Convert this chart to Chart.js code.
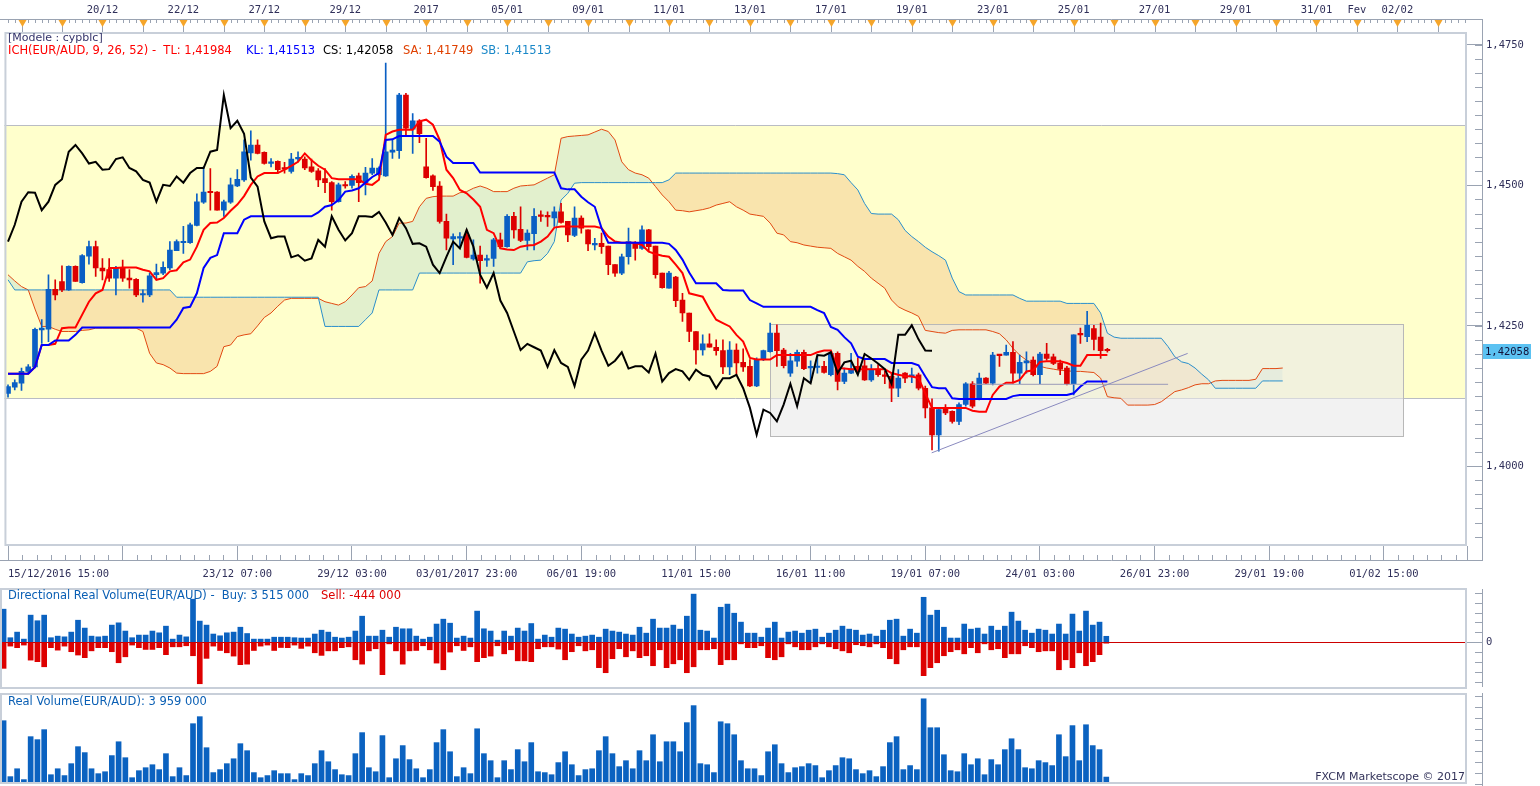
<!DOCTYPE html>
<html>
<head>
<meta charset="utf-8">
<script src="https://cdn.jsdelivr.net/npm/chart.js@4.4.1/dist/chart.umd.min.js"></script>
<style>
  html, body { margin: 0; padding: 0; background: #fff; overflow: hidden; }
  #wrap { position: relative; width: 1540px; height: 786px; }
  canvas { position: absolute; left: 0; }
  .t { position: absolute; font-family: 'DejaVu Sans', sans-serif; font-size: 11.5px; white-space: pre; line-height: 1; }
</style>
</head>
<body>
<div id="wrap">
  <canvas id="cMain" width="1540" height="586" style="top:0"></canvas>
  <canvas id="cDir" width="1540" height="104" style="top:586px"></canvas>
  <canvas id="cVol" width="1540" height="95" style="top:691px"></canvas>

  <div class="t" style="left:8px;top:32px;color:#33336a;font-size:11px">[Modele : cypblc]</div>
  <div class="t" style="left:8px;top:45px;color:#ff0000">ICH(EUR/AUD, 9, 26, 52) -  TL: 1,41984</div>
  <div class="t" style="left:246px;top:45px;color:#0000ff">KL: 1,41513</div>
  <div class="t" style="left:323px;top:45px;color:#000000">CS: 1,42058</div>
  <div class="t" style="left:403px;top:45px;color:#e04000">SA: 1,41749</div>
  <div class="t" style="left:481px;top:45px;color:#1a88c8">SB: 1,41513</div>
  <div class="t" style="left:8px;top:590px;color:#0a5fb4">Directional Real Volume(EUR/AUD) -  Buy: 3 515 000</div>
  <div class="t" style="left:321px;top:590px;color:#dd0000">Sell: -444 000</div>
  <div class="t" style="left:8px;top:696px;color:#0a5fb4">Real Volume(EUR/AUD): 3 959 000</div>
  <div class="t" style="right:75px;top:771px;color:#33335a;font-size:11px">FXCM Marketscope © 2017</div>
</div>

<script>
// EUR/AUD H4 — candles, Ichimoku (9, 26, 52), directional and real volume

// --- price data, one entry per H4 bar ---
const opens = [
  1.4130,1.4141,1.4148,1.4169,1.4177,1.4243,1.4244,1.4315,1.4329,1.4314,
  1.4356,1.4327,1.4374,1.4391,1.4353,1.4350,1.4335,1.4353,1.4335,1.4333,
  1.4305,1.4305,1.4341,1.4344,1.4353,1.4384,1.4398,1.4398,1.4429,1.4470,
  1.4488,1.4488,1.4456,1.4470,1.4499,1.4510,1.4558,1.4572,1.4559,1.4539,
  1.4543,1.4530,1.4525,1.4547,1.4547,1.4533,1.4526,1.4512,1.4505,1.4471,
  1.4501,1.4500,1.4517,1.4505,1.4522,1.4519,1.4517,1.4559,1.4562,1.4661,
  1.4600,1.4615,1.4533,1.4517,1.4499,1.4436,1.4405,1.4406,1.4412,1.4369,
  1.4376,1.4367,1.4370,1.4403,1.4391,1.4445,1.4422,1.4402,1.4414,1.4446,
  1.4445,1.4442,1.4453,1.4436,1.4411,1.4442,1.4421,1.4394,1.4397,1.4392,
  1.4359,1.4344,1.4373,1.4397,1.4388,1.4421,1.4392,1.4344,1.4317,1.4337,
  1.4296,1.4273,1.4240,1.4207,1.4218,1.4212,1.4206,1.4177,1.4207,1.4185,
  1.4178,1.4143,1.4190,1.4204,1.4237,1.4207,1.4166,1.4187,1.4203,1.4175,
  1.4176,1.4178,1.4163,1.4201,1.4151,1.4166,1.4178,1.4179,1.4154,1.4173,
  1.4161,1.4160,1.4139,1.4166,1.4160,1.4163,1.4139,1.4104,1.4056,1.4104,
  1.4098,1.4080,1.4110,1.4147,1.4121,1.4157,1.4148,1.4198,1.4198,1.4203,
  1.4166,1.4184,1.4189,1.4163,1.4200,1.4195,1.4184,1.4175,1.4147,1.4236,
  1.4231,1.4245,1.4230,1.4208
];
const highs = [
  1.4145,1.4154,1.4175,1.4181,1.4246,1.4261,1.4341,1.4332,1.4357,1.4357,
  1.4357,1.4377,1.4401,1.4401,1.4370,1.4370,1.4356,1.4367,1.4350,1.4334,
  1.4314,1.4344,1.4360,1.4364,1.4400,1.4403,1.4427,1.4433,1.4485,1.4533,
  1.4530,1.4489,1.4474,1.4513,1.4528,1.4581,1.4597,1.4581,1.4560,1.4548,
  1.4544,1.4541,1.4557,1.4560,1.4551,1.4547,1.4530,1.4530,1.4507,1.4504,
  1.4507,1.4519,1.4522,1.4532,1.4548,1.4533,1.4718,1.4581,1.4664,1.4664,
  1.4628,1.4617,1.4584,1.4519,1.4507,1.4449,1.4414,1.4416,1.4421,1.4403,
  1.4392,1.4376,1.4406,1.4415,1.4448,1.4452,1.4462,1.4421,1.4459,1.4455,
  1.4453,1.4462,1.4468,1.4436,1.4462,1.4446,1.4421,1.4406,1.4415,1.4392,
  1.4359,1.4378,1.4424,1.4400,1.4428,1.4422,1.4392,1.4344,1.4347,1.4338,
  1.4308,1.4273,1.4240,1.4234,1.4236,1.4225,1.4225,1.4222,1.4218,1.4209,
  1.4190,1.4193,1.4207,1.4255,1.4252,1.4210,1.4201,1.4207,1.4207,1.4188,
  1.4196,1.4187,1.4204,1.4204,1.4175,1.4201,1.4193,1.4189,1.4181,1.4181,
  1.4169,1.4166,1.4172,1.4167,1.4175,1.4166,1.4143,1.4120,1.4104,1.4110,
  1.4099,1.4113,1.4149,1.4151,1.4166,1.4158,1.4203,1.4198,1.4216,1.4222,
  1.4198,1.4204,1.4195,1.4203,1.4219,1.4200,1.4189,1.4178,1.4234,1.4246,
  1.4276,1.4251,1.4255,1.4210
];
const lows = [
  1.4123,1.4136,1.4135,1.4166,1.4175,1.4219,1.4222,1.4296,1.4311,1.4313,
  1.4329,1.4326,1.4360,1.4338,1.4332,1.4329,1.4305,1.4329,1.4317,1.4302,
  1.4292,1.4302,1.4332,1.4341,1.4350,1.4384,1.4379,1.4397,1.4428,1.4468,
  1.4456,1.4456,1.4445,1.4468,1.4498,1.4507,1.4545,1.4556,1.4538,1.4533,
  1.4522,1.4522,1.4522,1.4542,1.4528,1.4523,1.4498,1.4487,1.4456,1.4470,
  1.4495,1.4495,1.4471,1.4483,1.4519,1.4517,1.4516,1.4548,1.4548,1.4587,
  1.4557,1.4576,1.4513,1.4491,1.4433,1.4385,1.4359,1.4391,1.4371,1.4367,
  1.4326,1.4356,1.4356,1.4388,1.4390,1.4406,1.4400,1.4385,1.4385,1.4436,
  1.4427,1.4427,1.4433,1.4400,1.4409,1.4415,1.4384,1.4385,1.4379,1.4341,
  1.4338,1.4341,1.4360,1.4367,1.4386,1.4384,1.4335,1.4317,1.4317,1.4284,
  1.4258,1.4222,1.4182,1.4198,1.4212,1.4198,1.4165,1.4163,1.4163,1.4169,
  1.4142,1.4142,1.4188,1.4203,1.4178,1.4175,1.4160,1.4178,1.4172,1.4149,
  1.4166,1.4166,1.4161,1.4136,1.4147,1.4165,1.4166,1.4153,1.4151,1.4160,
  1.4147,1.4115,1.4124,1.4149,1.4149,1.4136,1.4086,1.4029,1.4027,1.4092,
  1.4077,1.4074,1.4107,1.4104,1.4118,1.4147,1.4145,1.4178,1.4198,1.4148,
  1.4147,1.4166,1.4161,1.4147,1.4189,1.4181,1.4163,1.4145,1.4127,1.4219,
  1.4222,1.4207,1.4192,1.4203
];
const closes = [
  1.4142,1.4149,1.4169,1.4177,1.4244,1.4246,1.4315,1.4305,1.4314,1.4356,
  1.4329,1.4375,1.4391,1.4353,1.4348,1.4335,1.4353,1.4335,1.4332,1.4305,
  1.4306,1.4339,1.4345,1.4354,1.4385,1.4400,1.4400,1.4430,1.4471,1.4488,
  1.4487,1.4456,1.4471,1.4501,1.4511,1.4560,1.4572,1.4557,1.4539,1.4542,
  1.4528,1.4529,1.4547,1.4550,1.4531,1.4525,1.4510,1.4505,1.4471,1.4501,
  1.4499,1.4516,1.4505,1.4522,1.4531,1.4531,1.4560,1.4563,1.4661,1.4602,
  1.4615,1.4592,1.4514,1.4498,1.4436,1.4406,1.4409,1.4409,1.4372,1.4376,
  1.4366,1.4370,1.4403,1.4391,1.4445,1.4421,1.4402,1.4415,1.4445,1.4445,
  1.4444,1.4453,1.4434,1.4412,1.4442,1.4424,1.4396,1.4397,1.4391,1.4359,
  1.4344,1.4373,1.4400,1.4388,1.4421,1.4391,1.4341,1.4318,1.4344,1.4295,
  1.4273,1.4240,1.4207,1.4218,1.4212,1.4206,1.4177,1.4207,1.4184,1.4177,
  1.4143,1.4190,1.4206,1.4237,1.4206,1.4179,1.4188,1.4203,1.4174,1.4178,
  1.4178,1.4167,1.4201,1.4151,1.4166,1.4173,1.4169,1.4154,1.4172,1.4163,
  1.4160,1.4139,1.4157,1.4157,1.4163,1.4139,1.4104,1.4056,1.4101,1.4095,
  1.4080,1.4110,1.4147,1.4107,1.4157,1.4148,1.4198,1.4197,1.4203,1.4166,
  1.4185,1.4188,1.4163,1.4200,1.4192,1.4183,1.4173,1.4147,1.4234,1.4234,
  1.4251,1.4226,1.4206,1.42058
];

// --- Ichimoku lines as drawn ---
const tenkan = [
  1.4165,1.4165,1.4165,1.4165,1.4177,1.4216,1.4216,1.4218,1.4246,1.4247,
  1.4247,1.4270,1.4293,1.4308,1.4314,1.4353,1.4353,1.4354,1.4354,1.4354,
  1.4350,1.4347,1.4332,1.4335,1.4347,1.4349,1.4363,1.4368,1.4391,1.4421,
  1.4433,1.4434,1.4442,1.4455,1.4466,1.4481,1.4501,1.4516,1.4522,1.4522,
  1.4522,1.4528,1.4535,1.4542,1.4557,1.4545,1.4535,1.4528,1.4513,1.4511,
  1.4511,1.4511,1.4511,1.4503,1.4501,1.4510,1.4590,1.4596,1.4599,1.4599,
  1.4599,1.4614,1.4617,1.4608,1.4581,1.4528,1.4513,1.4492,1.4486,1.4475,
  1.4462,1.4421,1.4415,1.4388,1.4386,1.4385,1.4391,1.4393,1.4394,1.4400,
  1.4409,1.4425,1.4427,1.4427,1.4427,1.4427,1.4427,1.4427,1.4424,1.4409,
  1.4400,1.4398,1.4398,1.4398,1.4394,1.4382,1.4378,1.4375,1.4373,1.4359,
  1.4344,1.4308,1.4305,1.4302,1.4280,1.4261,1.4255,1.4249,1.4234,1.4222,
  1.4193,1.4190,1.4190,1.4190,1.4198,1.4198,1.4198,1.4198,1.4198,1.4198,
  1.4203,1.4206,1.4206,1.4175,1.4174,1.4173,1.4173,1.4173,1.4173,1.4173,
  1.4173,1.4166,1.4163,1.4161,1.4160,1.4157,1.4130,1.4104,1.4104,1.4104,
  1.4104,1.4104,1.4104,1.4099,1.4097,1.4097,1.4127,1.4142,1.4149,1.4149,
  1.4154,1.4169,1.4171,1.4186,1.4187,1.4187,1.4187,1.4184,1.4179,1.4179,
  1.4198,1.4198,1.4198,1.4198
];
const kijun = [
  1.4165,1.4165,1.4165,1.4165,1.4177,1.4216,1.4216,1.4224,1.4224,1.4224,
  1.4234,1.4247,1.4247,1.4247,1.4247,1.4247,1.4247,1.4247,1.4247,1.4247,
  1.4247,1.4247,1.4247,1.4247,1.4247,1.4261,1.4282,1.4284,1.4308,1.4353,
  1.4371,1.4376,1.4415,1.4415,1.4415,1.4439,1.4445,1.4445,1.4445,1.4445,
  1.4445,1.4445,1.4445,1.4445,1.4445,1.4445,1.4452,1.4462,1.4465,1.4474,
  1.4489,1.4491,1.4495,1.4505,1.4515,1.4522,1.4581,1.4582,1.4588,1.4588,
  1.4588,1.4588,1.4588,1.4588,1.4578,1.4551,1.4540,1.4540,1.4540,1.4540,
  1.4523,1.4523,1.4523,1.4523,1.4523,1.4523,1.4523,1.4523,1.4523,1.4523,
  1.4523,1.4523,1.4495,1.4493,1.4493,1.4480,1.4470,1.4462,1.4424,1.4398,
  1.4398,1.4398,1.4398,1.4398,1.4398,1.4398,1.4398,1.4398,1.4396,1.4385,
  1.4368,1.4345,1.4326,1.4326,1.4326,1.4326,1.4314,1.4313,1.4313,1.4313,
  1.4296,1.4290,1.4284,1.4284,1.4284,1.4284,1.4284,1.4284,1.4284,1.4284,
  1.4278,1.4273,1.4248,1.4243,1.4230,1.4219,1.4195,1.4191,1.4191,1.4191,
  1.4191,1.4184,1.4184,1.4184,1.4184,1.4180,1.4160,1.4141,1.4139,1.4139,
  1.4121,1.4120,1.4120,1.4120,1.4120,1.4120,1.4120,1.4120,1.4120,1.4125,
  1.4127,1.4127,1.4127,1.4127,1.4127,1.4127,1.4127,1.4127,1.4130,1.4142,
  1.4151,1.4151,1.4151,1.4151
];
const senkouA = [
  1.4341,1.4330,1.4320,1.4314,1.4280,1.4249,1.4249,1.4244,1.4240,1.4240,
  1.4240,1.4242,1.4243,1.4246,1.4246,1.4246,1.4246,1.4246,1.4246,1.4246,
  1.4240,1.4201,1.4184,1.4181,1.4175,1.4166,1.4165,1.4165,1.4165,1.4165,
  1.4169,1.4178,1.4213,1.4216,1.4231,1.4234,1.4236,1.4250,1.4265,1.4273,
  1.4285,1.4296,1.4299,1.4299,1.4299,1.4299,1.4299,1.4293,1.4290,1.4287,
  1.4293,1.4305,1.4318,1.4320,1.4330,1.4379,1.4400,1.4409,1.4433,1.4433,
  1.4436,1.4462,1.4477,1.4480,1.4481,1.4481,1.4481,1.4487,1.4489,1.4495,
  1.4499,1.4495,1.4489,1.4489,1.4489,1.4495,1.4499,1.4500,1.4501,1.4507,
  1.4513,1.4519,1.4584,1.4587,1.4588,1.4589,1.4590,1.4595,1.4600,1.4596,
  1.4581,1.4542,1.4528,1.4522,1.4519,1.4513,1.4498,1.4483,1.4471,1.4456,
  1.4455,1.4453,1.4455,1.4457,1.4460,1.4465,1.4468,1.4471,1.4462,1.4456,
  1.4449,1.4447,1.4445,1.4433,1.4415,1.4412,1.4400,1.4398,1.4394,1.4392,
  1.4390,1.4389,1.4388,1.4379,1.4373,1.4367,1.4356,1.4347,1.4335,1.4326,
  1.4317,1.4296,1.4284,1.4278,1.4273,1.4267,1.4242,1.4240,1.4238,1.4237,
  1.4242,1.4243,1.4243,1.4243,1.4243,1.4243,1.4240,1.4236,1.4225,1.4210,
  1.4198,1.4189,1.4182,1.4178,1.4175,1.4173,1.4171,1.4170,1.4169,1.4169,
  1.4168,1.4167,1.4157,1.4124,1.4122,1.4121,1.4109,1.4109,1.4109,1.4109,
  1.4110,1.4115,1.4124,1.4133,1.4136,1.4140,1.4145,1.4147,1.4147,1.4152,
  1.4153,1.4153,1.4153,1.4153,1.4153,1.4155,1.4174,1.4174,1.4174,1.4175
];
const senkouB = [
  1.4332,1.4314,1.4314,1.4314,1.4314,1.4314,1.4314,1.4314,1.4314,1.4314,
  1.4314,1.4314,1.4314,1.4314,1.4314,1.4314,1.4314,1.4314,1.4314,1.4314,
  1.4314,1.4314,1.4314,1.4314,1.4314,1.4301,1.4301,1.4301,1.4301,1.4301,
  1.4301,1.4301,1.4301,1.4301,1.4301,1.4301,1.4301,1.4301,1.4301,1.4301,
  1.4301,1.4301,1.4301,1.4301,1.4301,1.4301,1.4301,1.4249,1.4249,1.4249,
  1.4249,1.4249,1.4249,1.4261,1.4273,1.4314,1.4314,1.4314,1.4314,1.4314,
  1.4314,1.4344,1.4344,1.4344,1.4344,1.4344,1.4344,1.4344,1.4344,1.4344,
  1.4344,1.4344,1.4344,1.4344,1.4344,1.4344,1.4344,1.4364,1.4366,1.4367,
  1.4379,1.4400,1.4474,1.4486,1.4504,1.4505,1.4505,1.4505,1.4505,1.4505,
  1.4505,1.4505,1.4505,1.4505,1.4505,1.4505,1.4505,1.4505,1.4510,1.4522,
  1.4522,1.4522,1.4522,1.4522,1.4522,1.4522,1.4522,1.4522,1.4522,1.4522,
  1.4522,1.4522,1.4522,1.4522,1.4522,1.4522,1.4522,1.4522,1.4522,1.4522,
  1.4522,1.4522,1.4522,1.4521,1.4519,1.4505,1.4492,1.4468,1.4450,1.4449,
  1.4449,1.4449,1.4439,1.4420,1.4409,1.4400,1.4390,1.4382,1.4375,1.4367,
  1.4335,1.4311,1.4305,1.4305,1.4305,1.4305,1.4305,1.4305,1.4305,1.4305,
  1.4299,1.4294,1.4294,1.4294,1.4294,1.4294,1.4294,1.4290,1.4290,1.4290,
  1.4290,1.4290,1.4273,1.4237,1.4230,1.4228,1.4228,1.4228,1.4228,1.4228,
  1.4228,1.4228,1.4213,1.4195,1.4186,1.4183,1.4175,1.4164,1.4154,1.4139,
  1.4139,1.4139,1.4139,1.4139,1.4139,1.4139,1.4152,1.4152,1.4152,1.4152
];
const CHIKOU_SHIFT = 26;

// --- volumes (millions) ---
const buyVol = [
  19.0,2.7,5.9,1.9,15.6,12.4,15.6,2.7,3.6,3.2,
  5.9,12.7,8.2,3.6,3.2,3.6,9.9,11.2,6.5,2.7,
  4.2,4.2,6.5,5.5,9.3,1.9,4.2,3.2,24.7,12.2,
  9.9,4.8,3.8,5.5,5.9,8.7,5.1,1.9,1.9,1.9,
  3.0,3.0,3.0,2.7,2.5,2.5,4.8,7.0,5.9,3.0,
  2.5,3.0,6.5,15.0,3.6,3.6,7.0,3.0,8.7,7.8,
  7.8,3.6,1.9,3.0,10.5,13.3,11.0,2.5,3.6,2.5,
  17.9,7.8,6.5,1.3,6.5,3.6,8.2,6.5,10.8,1.9,
  4.2,3.0,8.2,7.6,4.8,3.0,3.6,4.2,3.0,7.6,
  6.5,5.9,4.8,4.2,8.7,5.3,13.3,8.2,8.2,9.9,
  7.6,15.0,27.6,7.0,6.5,2.5,20.1,21.9,16.7,11.6,
  5.3,5.3,3.0,8.2,11.6,2.5,5.9,6.5,5.3,7.0,
  7.6,3.0,5.3,7.0,9.3,7.6,7.0,4.2,4.8,3.6,
  7.0,12.7,13.3,3.6,7.6,5.3,25.8,15.6,18.4,8.7,
  2.5,2.5,10.5,7.6,8.2,4.8,9.3,7.0,9.3,17.3,
  12.2,7.0,5.3,7.6,7.0,4.8,10.5,4.8,16.2,6.5,
  17.9,9.9,11.6,3.515
];
const sellVol = [
  -14.8,-2.1,-3.0,-1.5,-10.1,-11.0,-13.9,-3.0,-4.4,-2.1,
  -5.3,-7.2,-8.7,-4.8,-3.0,-3.0,-5.3,-11.6,-8.2,-1.5,
  -3.0,-4.0,-4.0,-3.0,-7.0,-2.5,-2.5,-1.9,-7.6,-23.6,
  -9.1,-2.1,-4.6,-5.9,-7.8,-12.7,-12.4,-4.6,-2.1,-1.5,
  -4.6,-2.9,-3.0,-1.5,-3.4,-2.1,-5.9,-7.4,-4.8,-4.8,
  -3.0,-2.5,-9.9,-12.4,-4.8,-3.6,-18.4,-0.8,-4.8,-12.4,
  -4.8,-4.6,-1.9,-4.2,-11.8,-15.6,-5.5,-1.9,-4.6,-2.5,
  -11.0,-8.7,-7.8,-1.9,-6.5,-4.2,-10.5,-10.5,-11.0,-3.6,
  -2.5,-2.5,-3.8,-9.9,-5.3,-1.9,-4.8,-4.2,-14.4,-17.3,
  -9.3,-3.6,-8.2,-4.8,-8.7,-7.6,-13.3,-4.2,-14.4,-12.2,
  -9.9,-17.3,-13.9,-4.2,-4.2,-3.6,-12.7,-9.9,-9.9,-0.8,
  -3.0,-3.0,-1.9,-8.7,-9.9,-8.2,-0.8,-2.5,-4.2,-4.2,
  -2.5,-0.8,-2.5,-3.6,-4.8,-5.9,-1.3,-1.9,-2.5,-0.8,
  -3.0,-9.3,-12.2,-4.2,-2.5,-2.5,-19.0,-14.4,-11.6,-7.6,
  -5.3,-4.2,-6.5,-3.0,-5.9,-0.8,-4.2,-3.6,-8.7,-6.5,
  -6.5,-1.9,-3.0,-5.3,-4.8,-4.8,-15.6,-9.9,-14.4,-5.9,
  -13.3,-11.0,-7.0,-0.444
];
const realVol = [
  36.1,4.2,8.7,2.5,27.0,25.3,31.0,5.3,8.7,4.8,
  11.6,21.3,17.9,8.7,5.9,7.0,16.2,24.1,15.0,3.6,
  7.6,9.3,11.0,8.2,17.3,4.2,9.3,4.8,34.4,38.4,
  20.7,6.5,8.2,11.6,14.4,23.0,19.0,6.5,3.6,4.8,
  7.6,5.9,5.9,2.5,5.9,4.8,11.6,19.0,12.7,8.2,
  5.3,4.8,17.3,29.3,9.3,7.0,27.6,3.6,14.4,21.9,
  13.9,8.7,3.6,8.2,23.6,31.0,18.4,4.2,9.3,5.9,
  31.5,17.3,13.3,3.6,13.3,8.2,19.6,12.7,23.6,7.0,
  6.5,5.3,12.2,18.4,11.0,4.8,8.2,8.7,19.0,27.0,
  17.3,9.9,13.3,8.7,19.0,13.3,28.1,12.7,24.1,24.1,
  18.4,35.0,44.7,11.6,11.0,6.5,35.5,34.4,28.1,13.3,
  8.7,8.7,4.8,18.4,22.4,11.6,6.5,9.3,9.9,11.6,
  10.5,3.6,7.6,10.5,15.0,14.4,8.2,5.9,7.6,4.2,
  9.9,23.6,27.0,8.2,10.5,8.2,48.6,32.1,32.1,16.7,
  7.6,7.0,17.3,11.0,14.4,5.3,13.9,11.0,19.6,25.8,
  19.6,9.3,8.7,13.3,12.2,10.5,28.1,15.6,33.3,13.3,
  33.8,21.9,19.6,3.959
];

// --- axes ---
const priceTicks = [1.4000, 1.4250, 1.4500, 1.4750];
const topTickIdx = [14, 26, 38, 50, 62, 74, 86, 98, 110, 122, 134, 146, 158, 170, 182, 194, 200, 206];
const topLabels  = ['20/12','22/12','27/12','29/12','2017','05/01','09/01','11/01','13/01','17/01',
                    '19/01','23/01','25/01','27/01','29/01','31/01','Fev','02/02'];
const bottomTickIdx = [0, 17, 34, 51, 68, 85, 102, 119, 136, 153, 170, 187, 204];
const bottomLabels  = ['15/12/2016 15:00','','23/12 07:00','29/12 03:00','03/01/2017 23:00','06/01 19:00',
                       '11/01 15:00','16/01 11:00','19/01 07:00','24/01 03:00','26/01 23:00','29/01 19:00','01/02 15:00'];

// --- drawn objects ---
const yellowBand = [1.4121, 1.4607];
const boxIdx = [113, 206.9];
const boxPrice = [1.4054, 1.4253];
const trendIdx = [136.95, 174.9];
const trendPrice = [1.4024, 1.4201];
const levelIdx = [143, 172];
const levelPrice = 1.4146;

const X_MIN = -0.53, X_MAX = 216.32;
const Y_MIN = 1.38582, Y_MAX = 1.47731;
const DIR_MIN = -26.6, DIR_MAX = 31.1;
const VOL_MAX = 51.9;

const BLUE = '#0a5fc4';
const RED  = '#dd0000';
const VBLUE = '#0b62c0';
const AXIS_TXT = '#30305a';
const TICK_CLR = '#9aa3b2';
const FRAME_CLR = '#c8cfd9';
const MONO = "'DejaVu Sans Mono', monospace";
const AXIS_W = 73;

const pts = arr => arr.map((v, i) => ({ x: i, y: v }));
const candleColor = closes.map((c, i) => (c >= opens[i] ? BLUE : RED));

function hline(ctx, x1, x2, y) {
  ctx.beginPath(); ctx.moveTo(x1, Math.round(y) + 0.5); ctx.lineTo(x2, Math.round(y) + 0.5); ctx.stroke();
}
function vline(ctx, x, y1, y2) {
  ctx.beginPath(); ctx.moveTo(Math.round(x) + 0.5, y1); ctx.lineTo(Math.round(x) + 0.5, y2); ctx.stroke();
}
function frame(ctx, a) {
  ctx.strokeStyle = FRAME_CLR; ctx.lineWidth = 2;
  ctx.strokeRect(a.left + 1, a.top + 1, a.right - a.left - 2, a.bottom - a.top - 2);
}
// right ruler: vertical line beyond the frame, short ticks every `step`
function rightRuler(ctx, a, yScale, step, y1, y2) {
  const rx = a.right + 15;
  ctx.strokeStyle = TICK_CLR; ctx.lineWidth = 1;
  vline(ctx, rx, y1, y2);
  const k0 = Math.ceil(yScale.min / step), k1 = Math.floor(yScale.max / step);
  for (let k = k0; k <= k1; k++) {
    const py = yScale.getPixelForValue(k * step);
    hline(ctx, rx - 7, rx, py);
  }
}
// fixed axis width, no extra padding for tick labels
function fixAxis(ax) {
  ax.width = AXIS_W;
  ax.paddingTop = 0;
  ax.paddingBottom = 0;
}

const hiddenX = { type: 'linear', min: X_MIN, max: X_MAX, offset: false, display: false };

// ---------------- main price panel ----------------
const mainDeco = {
  id: 'mainDeco',
  beforeDraw(chart) {
    const { ctx, chartArea: a, scales: { y } } = chart;
    const t = y.getPixelForValue(yellowBand[1]), b = y.getPixelForValue(yellowBand[0]);
    ctx.save();
    ctx.fillStyle = '#ffffcc';
    ctx.fillRect(a.left, t, a.right - a.left, b - t);
    ctx.strokeStyle = '#b9bcc4'; ctx.lineWidth = 1;
    hline(ctx, a.left, a.right, t);
    hline(ctx, a.left, a.right, b);
    ctx.restore();
  },
  beforeDatasetDraw(chart, args) {
    if (args.index !== 0) return;
    const { ctx, scales: { x, y } } = chart;
    const l = x.getPixelForValue(boxIdx[0]), r = x.getPixelForValue(boxIdx[1]);
    const t = y.getPixelForValue(boxPrice[1]), b = y.getPixelForValue(boxPrice[0]);
    ctx.save();
    ctx.fillStyle = 'rgba(233,233,233,0.59)';
    ctx.fillRect(l, t, r - l, b - t);
    ctx.strokeStyle = '#b8b8b8'; ctx.lineWidth = 1;
    ctx.strokeRect(Math.round(l) + 0.5, Math.round(t) + 0.5, Math.round(r - l), Math.round(b - t));
    ctx.restore();
  },
  afterDraw(chart) {
    const { ctx, chartArea: a, scales: { x, y } } = chart;
    ctx.save();
    frame(ctx, a);
    const rx = a.right + 15;
    ctx.strokeStyle = TICK_CLR; ctx.lineWidth = 1;

    // top ruler: bar ticks, day marks with orange triangles
    hline(ctx, 0, rx, 19);
    for (let i = 0; i <= X_MAX; i++) vline(ctx, x.getPixelForValue(i), 20, 23);
    for (let d = 2; d <= X_MAX; d += 6) vline(ctx, x.getPixelForValue(d), 20, a.top);
    ctx.fillStyle = '#f5a52a';
    for (let d = 2; d <= X_MAX; d += 6) {
      const px = Math.round(x.getPixelForValue(d)) + 0.5;
      ctx.beginPath(); ctx.moveTo(px - 4, 20); ctx.lineTo(px + 4, 20); ctx.lineTo(px, 27); ctx.closePath(); ctx.fill();
    }

    // bottom ruler
    const by = a.bottom + 14;
    hline(ctx, 0, rx, by);
    for (let k = 0; k * 17 / 8 <= X_MAX; k++) {
      if (k % 8 === 0) continue;
      vline(ctx, x.getPixelForValue(k * 17 / 8), by - 5, by);
    }

    // right ruler
    rightRuler(ctx, a, y, 0.0025, 19, by + 1);

    // last price tag
    const last = closes[closes.length - 1];
    const py = Math.round(y.getPixelForValue(last));
    ctx.fillStyle = '#5cc2f2';
    ctx.fillRect(rx + 1, py - 7, 48, 15);
    ctx.fillStyle = '#12123a';
    ctx.font = "10.5px " + MONO;
    ctx.textBaseline = 'middle';
    ctx.fillText(last.toFixed(5).replace('.', ','), rx + 3, py + 1);
    ctx.restore();
  }
};

new Chart(document.getElementById('cMain'), {
  type: 'bar',
  data: {
    datasets: [
      { type: 'line', label: 'SA', data: pts(senkouA), borderColor: '#e24a12', borderWidth: 1,
        pointRadius: 0, tension: 0, order: 10,
        fill: { target: 1, above: 'rgba(150,200,210,0.28)', below: 'rgba(235,170,110,0.32)' } },
      { type: 'line', label: 'SB', data: pts(senkouB), borderColor: '#2a8fcc', borderWidth: 1,
        pointRadius: 0, tension: 0, fill: false, order: 9 },
      { type: 'bar', label: 'wick', data: lows.map((l, i) => ({ x: i, y: [l, highs[i]] })),
        backgroundColor: candleColor, barThickness: 1, grouped: false, order: 6 },
      { type: 'bar', label: 'body', data: opens.map((o, i) => ({ x: i, y: [o, closes[i]] })),
        backgroundColor: candleColor, barThickness: 5, minBarLength: 1.5, grouped: false, order: 5 },
      { type: 'line', label: 'TL', data: pts(tenkan), borderColor: '#ff0000', borderWidth: 2,
        pointRadius: 0, tension: 0, fill: false, order: 4 },
      { type: 'line', label: 'KL', data: pts(kijun), borderColor: '#0000ff', borderWidth: 2,
        pointRadius: 0, tension: 0, fill: false, order: 3 },
      { type: 'line', label: 'CS', data: closes.slice(CHIKOU_SHIFT).map((c, k) => ({ x: k, y: c })),
        borderColor: '#000000', borderWidth: 2, pointRadius: 0, tension: 0, fill: false, order: 2 },
      { type: 'line', label: 'trend', data: [{ x: trendIdx[0], y: trendPrice[0] }, { x: trendIdx[1], y: trendPrice[1] }],
        borderColor: '#8a8abf', borderWidth: 1, pointRadius: 0, fill: false, order: 1 },
      { type: 'line', label: 'level', data: [{ x: levelIdx[0], y: levelPrice }, { x: levelIdx[1], y: levelPrice }],
        borderColor: '#9a9ab8', borderWidth: 1, pointRadius: 0, fill: false, order: 1 }
    ]
  },
  options: {
    responsive: false, animation: false, devicePixelRatio: 1,
    layout: { padding: 0 },
    plugins: { legend: { display: false }, tooltip: { enabled: false }, filler: { drawTime: 'beforeDatasetsDraw' } },
    scales: {
      x: {
        type: 'linear', position: 'bottom', min: X_MIN, max: X_MAX, offset: false,
        grid: { drawOnChartArea: false, tickLength: 14, color: TICK_CLR, offset: false },
        border: { display: false },
        afterBuildTicks: ax => { ax.ticks = bottomTickIdx.concat([X_MAX]).map(v => ({ value: v })); },
        afterFit: ax => { ax.height = 40; },
        ticks: { autoSkip: false, maxRotation: 0, minRotation: 0, align: 'inner', padding: 8,
                 color: AXIS_TXT, font: { family: MONO, size: 10.5 },
                 callback: (v, k) => bottomLabels[k] || '' }
      },
      xTop: {
        type: 'linear', position: 'top', min: X_MIN, max: X_MAX, offset: false,
        grid: { drawOnChartArea: false, tickLength: 12, color: 'rgba(0,0,0,0)', offset: false },
        border: { display: false },
        afterBuildTicks: ax => { ax.ticks = topTickIdx.map(v => ({ value: v })); },
        afterFit: ax => { ax.height = 32; },
        ticks: { autoSkip: false, maxRotation: 0, minRotation: 0, padding: 3,
                 color: AXIS_TXT, font: { family: MONO, size: 10.5 },
                 callback: (v, k) => topLabels[k] }
      },
      y: {
        position: 'right', min: Y_MIN, max: Y_MAX,
        grid: { drawOnChartArea: false, tickLength: 15, color: TICK_CLR },
        border: { display: false },
        afterBuildTicks: ax => { ax.ticks = priceTicks.map(v => ({ value: v })); },
        afterFit: fixAxis,
        ticks: { padding: 4, color: AXIS_TXT, font: { family: MONO, size: 10.5 },
                 callback: v => v.toFixed(4).replace('.', ',') }
      }
    }
  },
  plugins: [mainDeco]
});

// ---------------- directional real volume ----------------
const dirDeco = {
  id: 'dirDeco',
  afterDraw(chart) {
    const { ctx, chartArea: a, scales: { y } } = chart;
    ctx.save();
    ctx.strokeStyle = '#cc0000'; ctx.lineWidth = 1;
    hline(ctx, a.left, a.right, y.getPixelForValue(0));
    frame(ctx, a);
    rightRuler(ctx, a, y, 5.7, a.top + 1, a.bottom - 2);
    ctx.restore();
  }
};

new Chart(document.getElementById('cDir'), {
  type: 'bar',
  data: {
    datasets: [
      { label: 'Buy', data: pts(buyVol), backgroundColor: VBLUE, barThickness: 5, grouped: false },
      { label: 'Sell', data: pts(sellVol), backgroundColor: RED, barThickness: 5, grouped: false }
    ]
  },
  options: {
    responsive: false, animation: false, devicePixelRatio: 1,
    layout: { padding: { top: 2, bottom: 1, left: 0, right: 0 } },
    plugins: { legend: { display: false }, tooltip: { enabled: false } },
    scales: {
      x: hiddenX,
      y: {
        position: 'right', min: DIR_MIN, max: DIR_MAX,
        grid: { drawOnChartArea: false, tickLength: 15, color: TICK_CLR },
        border: { display: false },
        afterBuildTicks: ax => { ax.ticks = [{ value: 0 }]; },
        afterFit: fixAxis,
        ticks: { padding: 4, color: AXIS_TXT, font: { family: MONO, size: 10.5 }, callback: v => String(v) }
      }
    }
  },
  plugins: [dirDeco]
});

// ---------------- real volume ----------------
const volDeco = {
  id: 'volDeco',
  afterDraw(chart) {
    const { ctx, chartArea: a, scales: { y } } = chart;
    ctx.save();
    frame(ctx, a);
    rightRuler(ctx, a, y, 6.27, a.top, a.bottom + 2);
    ctx.restore();
  }
};

new Chart(document.getElementById('cVol'), {
  type: 'bar',
  data: {
    datasets: [
      { label: 'Real Volume', data: pts(realVol), backgroundColor: VBLUE, barThickness: 5, grouped: false }
    ]
  },
  options: {
    responsive: false, animation: false, devicePixelRatio: 1,
    layout: { padding: { top: 2, bottom: 2, left: 0, right: 0 } },
    plugins: { legend: { display: false }, tooltip: { enabled: false } },
    scales: {
      x: hiddenX,
      y: {
        position: 'right', min: 0, max: VOL_MAX,
        grid: { display: false }, border: { display: false },
        afterFit: fixAxis,
        ticks: { display: false }
      }
    }
  },
  plugins: [volDeco]
});
</script>
</body>
</html>
